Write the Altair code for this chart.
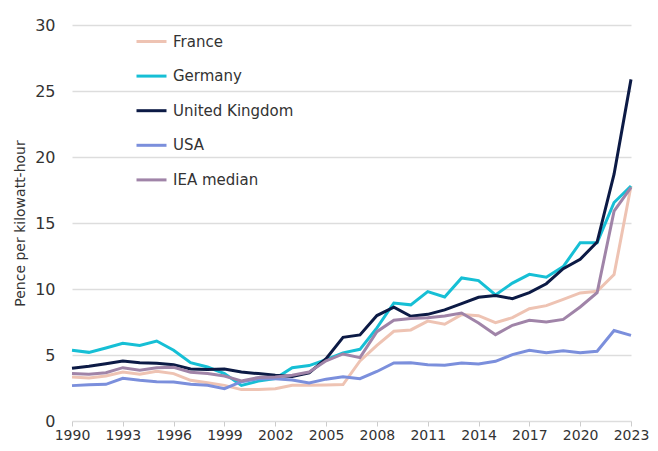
import altair as alt
import pandas as pd

years = list(range(1990, 2024))

france = [3.33, 3.26, 3.41, 3.71, 3.54, 3.77, 3.59, 3.08, 2.90, 2.70, 2.38, 2.38,
          2.45, 2.70, 2.70, 2.72, 2.76, 4.55, 5.73, 6.80, 6.90, 7.57, 7.33, 8.06,
          7.98, 7.45, 7.83, 8.51, 8.74, 9.22, 9.70, 9.83, 11.09, 17.80]
germany = [5.36, 5.20, 5.53, 5.89, 5.73, 6.06, 5.36, 4.42, 4.09, 3.59, 2.70, 3.02,
           3.22, 4.04, 4.20, 4.65, 5.16, 5.43, 7.06, 8.94, 8.80, 9.80, 9.40, 10.84,
           10.64, 9.55, 10.45, 11.11, 10.89, 11.70, 13.51, 13.51, 16.55, 17.80]
uk = [3.99, 4.14, 4.34, 4.55, 4.42, 4.37, 4.27, 3.94, 3.91, 3.94, 3.71, 3.59,
      3.46, 3.37, 3.64, 4.72, 6.34, 6.52, 7.99, 8.62, 7.93, 8.08, 8.42, 8.89,
      9.37, 9.50, 9.27, 9.72, 10.40, 11.54, 12.25, 13.56, 18.70, 25.88]
usa = [2.68, 2.75, 2.78, 3.23, 3.08, 2.98, 2.96, 2.78, 2.70, 2.45, 2.98, 3.20,
       3.20, 3.10, 2.88, 3.17, 3.35, 3.21, 3.75, 4.40, 4.42, 4.27, 4.22, 4.40,
       4.32, 4.52, 5.03, 5.36, 5.18, 5.33, 5.18, 5.28, 6.85, 6.49]
iea = [3.59, 3.54, 3.66, 4.04, 3.84, 4.04, 4.07, 3.69, 3.59, 3.41, 3.03, 3.30,
       3.33, 3.46, 3.71, 4.56, 5.08, 4.80, 6.77, 7.63, 7.76, 7.82, 7.96, 8.18,
       7.43, 6.54, 7.25, 7.63, 7.50, 7.70, 8.64, 9.72, 15.90, 17.70]

series_names = ["France", "Germany", "United Kingdom", "USA", "IEA median"]
series_colors = ["#eec3b3", "#16bfd5", "#0c1a45", "#7b8fdc", "#a084a8"]
x_ticks = list(range(1990, 2024, 3))
y_ticks = [0, 5, 10, 15, 20, 25, 30]

rows = []
for name, vals in zip(series_names, [france, germany, uk, usa, iea]):
    for yr, v in zip(years, vals):
        rows.append({"year": yr, "value": v, "series": name})
df = pd.DataFrame(rows)

FONT = "DejaVu Sans"
TXT = "#333333"

chart = alt.Chart(df).mark_line(strokeWidth=3, strokeJoin="miter").encode(
    x=alt.X("year:Q",
            scale=alt.Scale(domain=[1990, 2023], nice=False, zero=False),
            axis=alt.Axis(values=x_ticks, format="d", title=None, grid=False,
                          domain=True, domainColor="#dddddd", domainWidth=1,
                          ticks=True, tickColor="#cccccc", tickSize=5,
                          labelFontSize=14, labelColor=TXT, labelFont=FONT,
                          labelPadding=2, labelFlush=False)),
    y=alt.Y("value:Q",
            scale=alt.Scale(domain=[0, 30], nice=False),
            axis=alt.Axis(values=y_ticks, title="Pence per kilowatt-hour",
                          titleFontSize=14, titleFont=FONT, titleColor=TXT,
                          titleFontWeight="normal", titlePadding=7,
                          grid=True, gridColor="#dddddd", gridWidth=1.5,
                          domain=False, ticks=False,
                          labelFontSize=16, labelColor=TXT, labelFont=FONT,
                          labelPadding=17)),
    color=alt.Color("series:N",
                    scale=alt.Scale(domain=series_names, range=series_colors),
                    legend=alt.Legend(title=None, orient="none", legendX=63, legendY=0,
                                      symbolType="stroke", symbolSize=900,
                                      symbolStrokeWidth=3, labelFontSize=15,
                                      labelFont=FONT, labelColor=TXT,
                                      labelOffset=5, rowPadding=9.6, padding=0)),
    order=alt.Order("year:Q"),
).properties(
    width=559, height=396,
    autosize=alt.AutoSizeParams(type="none"),
    padding={"left": 64, "top": 17, "right": 19, "bottom": 22},
).configure_view(stroke=None)

chart.save("out.html", embed_options={"renderer": "svg", "actions": False})
